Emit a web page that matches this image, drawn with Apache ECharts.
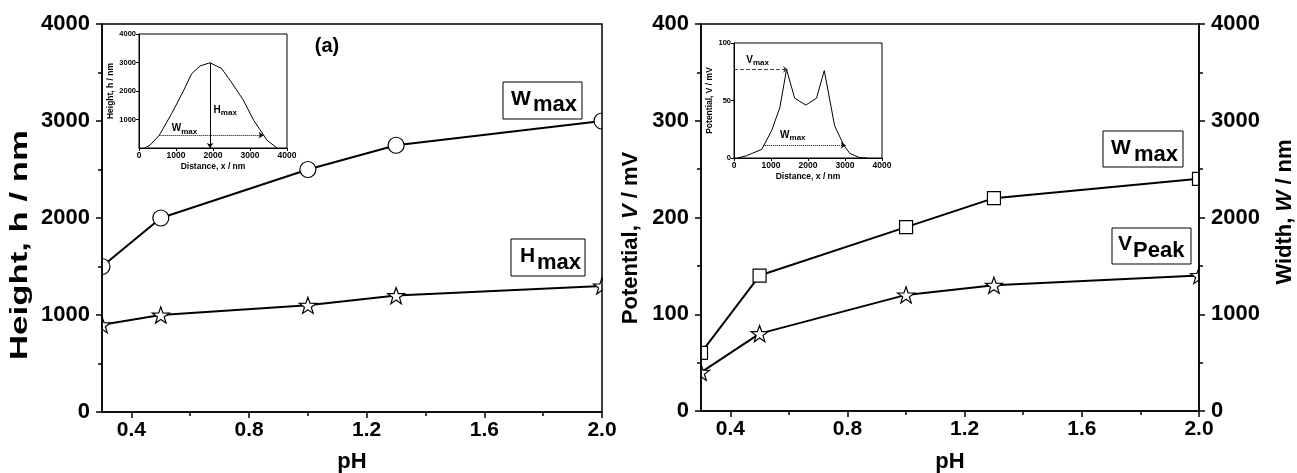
<!DOCTYPE html>
<html>
<head>
<meta charset="utf-8">
<script src="https://cdn.jsdelivr.net/npm/echarts@6/dist/echarts.min.js"></script>
<style>
html,body{margin:0;padding:0;background:#fff;}
#c{width:1297px;height:473px;}
</style>
</head>
<body>
<div id="c"></div>
<script>
// ---------- data ----------
const phValues = [0.3, 0.5, 1.0, 1.3, 2.0];
const leftWmax = [1500, 2000, 2500, 2750, 3000];   // nm
const leftHmax = [900, 1000, 1100, 1200, 1300];    // nm
const rightVpeak = [40, 80, 120, 130, 140];         // mV
const rightWmax = [600, 1400, 1900, 2200, 2400];    // nm
const xMajorTicks = [0.4, 0.8, 1.2, 1.6, 2.0];
const xMinorTicks = [0.6, 1.0, 1.4, 1.8];

// inset (a): height profile
const insetHX = [150, 300, 550, 900, 1200, 1420, 1650, 1920, 2230, 2460, 2820, 3100, 3370, 3460, 3730];
const insetHY = [0, 100, 450, 1250, 2000, 2600, 2880, 2990, 2790, 2380, 1680, 970, 450, 270, 0];
// inset (b): potential profile
const insetVX = [100, 340, 750, 1020, 1240, 1420, 1640, 1940, 2230, 2440, 2720, 2970, 3130, 3400, 3600];
const insetVY = [0, 2, 7.5, 24, 44, 77, 52, 46, 52, 76, 28, 11, 4, 0.3, 0];

const FONT = '"Liberation Sans", Arial, sans-serif';
const zip = (a, b) => a.map((v, i) => [v, b[i]]);
const STAR = 'path://M50,0 L61.8,33.8 L97.6,34.5 L69,56.2 L79.4,90.5 L50,70 L20.6,90.5 L31,56.2 L2.4,34.5 L38.2,33.8 Z';
const plain = v => String(v);

const chart = echarts.init(document.getElementById('c'), null, {renderer: 'canvas'});

// layers: series 0, edge masks 1, main axes 2, insets + annotations 3
function mainX(grid) {
  return [{
    type: 'value', gridIndex: grid, min: 0.3, max: 2.0, position: 'bottom', zlevel: 2,
    axisLine: {show: true, onZero: false, lineStyle: {color: '#000', width: 1.5}},
    axisTick: {show: true, customValues: xMajorTicks, length: 6, lineStyle: {color: '#000', width: 1.5}},
    axisLabel: {show: true, customValues: xMajorTicks, formatter: v => v.toFixed(1), color: '#000',
      fontSize: 21, fontWeight: 'bold', fontFamily: FONT, margin: 8},
    splitLine: {show: false}
  }, {
    type: 'value', gridIndex: grid, min: 0.3, max: 2.0, position: 'bottom', zlevel: 2,
    axisLine: {show: false},
    axisTick: {show: true, customValues: xMinorTicks, length: 4, lineStyle: {color: '#000', width: 1.5}},
    axisLabel: {show: false},
    splitLine: {show: false}
  }];
}
function mainY(grid, max, interval, pos) {
  return {
    type: 'value', gridIndex: grid, min: 0, max: max, interval: interval, position: pos, zlevel: 2,
    axisLine: {show: true, onZero: false, lineStyle: {color: '#000', width: 1.5}},
    axisTick: {show: true, length: 6, lineStyle: {color: '#000', width: 1.5}},
    minorTick: {show: true, splitNumber: 2, length: 4, lineStyle: {color: '#000', width: 1.5}},
    axisLabel: {color: '#000', fontSize: 22, fontWeight: 'bold', fontFamily: FONT, margin: 12, formatter: plain},
    splitLine: {show: false}, minorSplitLine: {show: false}
  };
}
function insetAxis(grid, max, interval, name, nameGap, showMin, labelSize) {
  return {
    type: 'value', gridIndex: grid, min: 0, max: max, interval: interval, zlevel: 3,
    name: name, nameLocation: 'middle', nameGap: nameGap,
    nameTextStyle: {color: '#000', fontSize: 8.5, fontWeight: 'bold', fontFamily: FONT},
    axisLine: {show: true, onZero: false, lineStyle: {color: '#000', width: 1}},
    axisTick: {show: true, length: 3, lineStyle: {color: '#000', width: 1}},
    axisLabel: {color: '#000', fontSize: labelSize, fontWeight: 'bold', fontFamily: FONT,
      margin: 3, showMinLabel: showMin, formatter: plain},
    splitLine: {show: false}
  };
}

const lineSeries = (xi, yi, data, symbol, size) => ({
  type: 'line', xAxisIndex: xi, yAxisIndex: yi, data: data, zlevel: 0,
  symbol: symbol, symbolSize: size, symbolKeepAspect: true, showSymbol: true,
  lineStyle: {color: '#000', width: 2}, itemStyle: {color: '#fff', borderColor: '#000', borderWidth: 1.2},
  clip: false, animation: false, silent: true
});

const insetLabel = (coord, main, sub) => ({
  coord: coord, value: 0,
  label: {show: true, position: 'inside', formatter: '{a|' + main + '}{s|' + sub + '}'}
});
const insetLabelStyle = {
  rich: {
    a: {fontSize: 10, fontWeight: 'bold', fontFamily: FONT, color: '#000'},
    s: {fontSize: 8, fontWeight: 'bold', fontFamily: FONT, color: '#000', padding: [6, 0, 0, 0]}
  }
};

const option = {
  backgroundColor: '#fff',
  animation: false,
  grid: [
    {left: 102, top: 24, width: 500, height: 388, show: true, borderColor: '#000', borderWidth: 1.5, zlevel: 2, outerBoundsMode: 'none', containLabel: false},
    {left: 701, top: 24, width: 498, height: 387, show: true, borderColor: '#000', borderWidth: 1.5, zlevel: 2, outerBoundsMode: 'none', containLabel: false},
    {left: 139, top: 34, width: 148, height: 114, show: true, borderColor: '#000', borderWidth: 1, backgroundColor: '#fff', zlevel: 3, z: 0, outerBoundsMode: 'none', containLabel: false},
    {left: 734, top: 43, width: 148, height: 115, show: true, borderColor: '#000', borderWidth: 1, backgroundColor: '#fff', zlevel: 3, z: 0, outerBoundsMode: 'none', containLabel: false}
  ],
  xAxis: [
    ...mainX(0), ...mainX(1),
    insetAxis(2, 4000, 1000, 'Distance, x / nm', 14, true, 8.5),
    insetAxis(3, 4000, 1000, 'Distance, x / nm', 14, true, 8.5)
  ],
  yAxis: [
    mainY(0, 4000, 1000, 'left'),
    mainY(1, 400, 100, 'left'),
    mainY(1, 4000, 1000, 'right'),
    insetAxis(2, 4000, 1000, 'Height, h / nm', 24, false, 7.5),
    insetAxis(3, 100, 50, 'Potential, V / mV', 16, true, 7.5)
  ],
  series: [
    lineSeries(0, 0, zip(phValues, leftWmax), 'circle', 16),
    lineSeries(0, 0, zip(phValues, leftHmax), STAR, 17),
    lineSeries(2, 1, zip(phValues, rightVpeak), STAR, 17),
    lineSeries(2, 2, zip(phValues, rightWmax), 'rect', 13),
    {
      type: 'line', xAxisIndex: 4, yAxisIndex: 3, data: zip(insetHX, insetHY), showSymbol: false,
      lineStyle: {color: '#000', width: 1}, zlevel: 3, z: 5, silent: true,
      markLine: {
        silent: true, animation: false, symbolSize: 5, label: {show: false}, zlevel: 3, z: 6,
        data: [
          [{coord: [1920, 2990], symbol: 'none', lineStyle: {type: 'solid', color: '#000', width: 1}},
           {coord: [1920, 0], symbol: 'arrow'}],
          [{coord: [550, 450], symbol: 'none', lineStyle: {type: 'dotted', color: '#000', width: 1}},
           {coord: [3370, 450], symbol: 'arrow'}]
        ]
      },
      markPoint: {
        silent: true, symbol: 'circle', symbolSize: 0.1, itemStyle: {color: 'rgba(0,0,0,0)'}, zlevel: 3, z: 7,
        label: insetLabelStyle,
        data: [insetLabel([2330, 1330], 'H', 'max'), insetLabel([1230, 690], 'W', 'max')]
      }
    },
    {
      type: 'line', xAxisIndex: 5, yAxisIndex: 4, data: zip(insetVX, insetVY), showSymbol: false,
      lineStyle: {color: '#000', width: 1}, zlevel: 3, z: 5, silent: true,
      markLine: {
        silent: true, animation: false, symbolSize: 5, label: {show: false}, zlevel: 3, z: 6,
        data: [
          [{coord: [0, 77], symbol: 'none', lineStyle: {type: 'dashed', color: '#444', width: 1}},
           {coord: [1460, 77], symbol: 'arrow'}],
          [{coord: [790, 11], symbol: 'none', lineStyle: {type: 'dotted', color: '#000', width: 1}},
           {coord: [3020, 11], symbol: 'arrow'}]
        ]
      },
      markPoint: {
        silent: true, symbol: 'circle', symbolSize: 0.1, itemStyle: {color: 'rgba(0,0,0,0)'}, zlevel: 3, z: 7,
        label: insetLabelStyle,
        data: [insetLabel([640, 85], 'V', 'max'), insetLabel([1590, 20], 'W', 'max')]
      }
    }
  ],
  graphic: [
    // clip half-markers at plot edges (above series, under axes)
    {type: 'rect', zlevel: 1, silent: true, shape: {x: 88, y: 14, width: 13.2, height: 395}, style: {fill: '#fff'}},
    {type: 'rect', zlevel: 1, silent: true, shape: {x: 602.8, y: 14, width: 14, height: 395}, style: {fill: '#fff'}},
    {type: 'rect', zlevel: 1, silent: true, shape: {x: 688, y: 14, width: 12.2, height: 395}, style: {fill: '#fff'}},
    {type: 'rect', zlevel: 1, silent: true, shape: {x: 1199.8, y: 14, width: 11, height: 395}, style: {fill: '#fff'}},

    // axis titles
    {type: 'text', zlevel: 3, x: 20, y: 245, rotation: Math.PI / 2, scaleX: 1.45, silent: true,
      style: {text: 'Height, h / nm', fontSize: 24, fontWeight: 'bold', fontFamily: FONT, fill: '#000', align: 'center', verticalAlign: 'middle'}},
    {type: 'text', zlevel: 3, x: 631, y: 238, rotation: Math.PI / 2, silent: true,
      style: {text: 'Potential, {i|V} / mV', fontSize: 22, fontWeight: 'bold', fontFamily: FONT, fill: '#000', align: 'center', verticalAlign: 'middle',
        rich: {i: {fontSize: 22, fontWeight: 'bold', fontStyle: 'italic', fontFamily: FONT, fill: '#000'}}}},
    {type: 'text', zlevel: 3, x: 1285, y: 212, rotation: Math.PI / 2, silent: true,
      style: {text: 'Width, {i|W} / nm', fontSize: 22, fontWeight: 'bold', fontFamily: FONT, fill: '#000', align: 'center', verticalAlign: 'middle',
        rich: {i: {fontSize: 22, fontWeight: 'bold', fontStyle: 'italic', fontFamily: FONT, fill: '#000'}}}},
    {type: 'text', zlevel: 3, x: 352, y: 462, silent: true,
      style: {text: 'pH', fontSize: 22, fontWeight: 'bold', fontFamily: FONT, fill: '#000', align: 'center', verticalAlign: 'middle'}},
    {type: 'text', zlevel: 3, x: 950, y: 462, silent: true,
      style: {text: 'pH', fontSize: 22, fontWeight: 'bold', fontFamily: FONT, fill: '#000', align: 'center', verticalAlign: 'middle'}},
    {type: 'text', zlevel: 3, x: 327, y: 46, silent: true,
      style: {text: '(a)', fontSize: 20, fontWeight: 'bold', fontFamily: FONT, fill: '#000', align: 'center', verticalAlign: 'middle'}},

    // boxed series labels
    {type: 'rect', zlevel: 3, silent: true, shape: {x: 503, y: 82, width: 79, height: 37}, style: {fill: '#fff', stroke: '#000', lineWidth: 1}},
    {type: 'text', zlevel: 3, z: 1, x: 511, y: 99, silent: true, style: {text: 'W', fontSize: 21, fontWeight: 'bold', fontFamily: FONT, fill: '#000', align: 'left', verticalAlign: 'middle'}},
    {type: 'text', zlevel: 3, z: 1, x: 533, y: 105, silent: true, style: {text: 'max', fontSize: 22, fontWeight: 'bold', fontFamily: FONT, fill: '#000', align: 'left', verticalAlign: 'middle'}},

    {type: 'rect', zlevel: 3, silent: true, shape: {x: 511, y: 239, width: 74, height: 37}, style: {fill: '#fff', stroke: '#000', lineWidth: 1}},
    {type: 'text', zlevel: 3, z: 1, x: 520, y: 256, silent: true, style: {text: 'H', fontSize: 21, fontWeight: 'bold', fontFamily: FONT, fill: '#000', align: 'left', verticalAlign: 'middle'}},
    {type: 'text', zlevel: 3, z: 1, x: 537, y: 263, silent: true, style: {text: 'max', fontSize: 22, fontWeight: 'bold', fontFamily: FONT, fill: '#000', align: 'left', verticalAlign: 'middle'}},

    {type: 'rect', zlevel: 3, silent: true, shape: {x: 1103, y: 131, width: 80, height: 36}, style: {fill: '#fff', stroke: '#000', lineWidth: 1}},
    {type: 'text', zlevel: 3, z: 1, x: 1111, y: 148, silent: true, style: {text: 'W', fontSize: 21, fontWeight: 'bold', fontFamily: FONT, fill: '#000', align: 'left', verticalAlign: 'middle'}},
    {type: 'text', zlevel: 3, z: 1, x: 1134, y: 155, silent: true, style: {text: 'max', fontSize: 22, fontWeight: 'bold', fontFamily: FONT, fill: '#000', align: 'left', verticalAlign: 'middle'}},

    {type: 'rect', zlevel: 3, silent: true, shape: {x: 1112, y: 228, width: 79, height: 36}, style: {fill: '#fff', stroke: '#000', lineWidth: 1}},
    {type: 'text', zlevel: 3, z: 1, x: 1118, y: 244, silent: true, style: {text: 'V', fontSize: 21, fontWeight: 'bold', fontFamily: FONT, fill: '#000', align: 'left', verticalAlign: 'middle'}},
    {type: 'text', zlevel: 3, z: 1, x: 1133, y: 251, silent: true, style: {text: 'Peak', fontSize: 22, fontWeight: 'bold', fontFamily: FONT, fill: '#000', align: 'left', verticalAlign: 'middle'}}
  ]
};
chart.setOption(option);
</script>
</body>
</html>
